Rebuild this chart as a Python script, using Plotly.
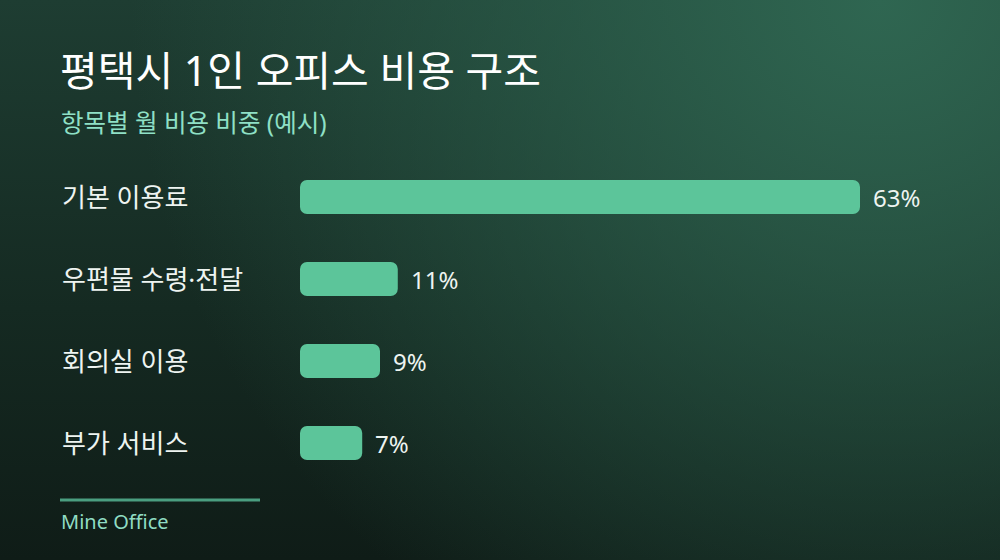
import base64
import plotly.graph_objects as go

categories = ["기본 이용료", "우편물 수령·전달", "회의실 이용", "부가 서비스"]
values = [63, 11, 9, 7]
value_labels = ["63%", "11%", "9%", "7%"]
title_text = "평택시 1인 오피스 비용 구조"
subtitle_text = "항목별 월 비용 비중 (예시)"
footer_text = "Mine Office"

W, H = 1000, 560
FONT = "Noto Sans, Noto Sans CJK KR, sans-serif"
BAR = "#5cc59a"

svg = f'''<svg xmlns="http://www.w3.org/2000/svg" width="{W}" height="{H}" viewBox="0 0 {W} {H}">
<defs>
<linearGradient id="lg" x1="0" y1="0" x2="0" y2="1">
<stop offset="0" stop-color="#1e3d32"/>
<stop offset="0.55" stop-color="#152a22"/>
<stop offset="1" stop-color="#0f1c17"/>
</linearGradient>
<radialGradient id="rg" cx="{W*0.88}" cy="0" r="{W*0.75}" gradientUnits="userSpaceOnUse">
<stop offset="0" stop-color="#2f6651" stop-opacity="1"/>
<stop offset="1" stop-color="#2f6651" stop-opacity="0"/>
</radialGradient>
</defs>
<rect width="{W}" height="{H}" fill="url(#lg)"/>
<rect width="{W}" height="{H}" fill="url(#rg)"/>
</svg>'''
bg_uri = "data:image/svg+xml;base64," + base64.b64encode(svg.encode()).decode()

ypos = list(range(len(categories)))

fig = go.Figure()
fig.add_trace(go.Bar(
    x=values, base=[0] * len(values), y=ypos, orientation="h",
    marker=dict(color=BAR, line=dict(width=0)),
    width=0.415, hoverinfo="skip",
))

annotations = []
for i, (c, v, t) in enumerate(zip(categories, values, value_labels)):
    annotations.append(dict(x=0.06, xref="paper", y=i, yref="y", text=c,
                            showarrow=False, xanchor="left", yanchor="middle",
                            font=dict(family=FONT, size=26, color="#eef4f1")))
    annotations.append(dict(x=v, xref="x", y=i, yref="y", text=t,
                            showarrow=False, xanchor="left", yanchor="middle",
                            xshift=11, font=dict(family=FONT, size=24, color="#eef4f1")))

annotations += [
    dict(x=0.058, xref="paper", y=1 - 70 / H, yref="paper", text=title_text,
         showarrow=False, xanchor="left", yanchor="middle",
         font=dict(family=FONT, size=41, color="#ffffff")),
    dict(x=0.059, xref="paper", y=1 - 122 / H, yref="paper", text=subtitle_text,
         showarrow=False, xanchor="left", yanchor="middle",
         font=dict(family=FONT, size=24.5, color="#8fe0c6")),
    dict(x=0.059, xref="paper", y=1 - 521 / H, yref="paper", text=footer_text,
         showarrow=False, xanchor="left", yanchor="middle",
         font=dict(family=FONT, size=20, color="#8fdcc3")),
]

fig.update_layout(
    width=W, height=H,
    margin=dict(l=0, r=0, t=0, b=0),
    paper_bgcolor="#132520", plot_bgcolor="rgba(0,0,0,0)",
    showlegend=False,
    barmode="overlay",
    barcornerradius=7,
    xaxis=dict(domain=[0.3, 0.86], range=[0, 63], visible=False, fixedrange=True),
    yaxis=dict(domain=[(H - 484) / H, (H - 156) / H], range=[3.5, -0.5],
               visible=False, fixedrange=True),
    annotations=annotations,
    shapes=[dict(type="line", xref="paper", yref="paper",
                 x0=0.06, x1=0.26, y0=1 - 500 / H, y1=1 - 500 / H,
                 line=dict(color="#4a9e80", width=3))],
    images=[dict(source=bg_uri, xref="paper", yref="paper", x=0, y=1,
                 sizex=1, sizey=1, sizing="stretch", layer="below",
                 xanchor="left", yanchor="top")],
)

fig.write_html("out.html", config={"displayModeBar": False},
               post_script="document.body.style.margin='0';document.body.style.background='#0f1c17';")
